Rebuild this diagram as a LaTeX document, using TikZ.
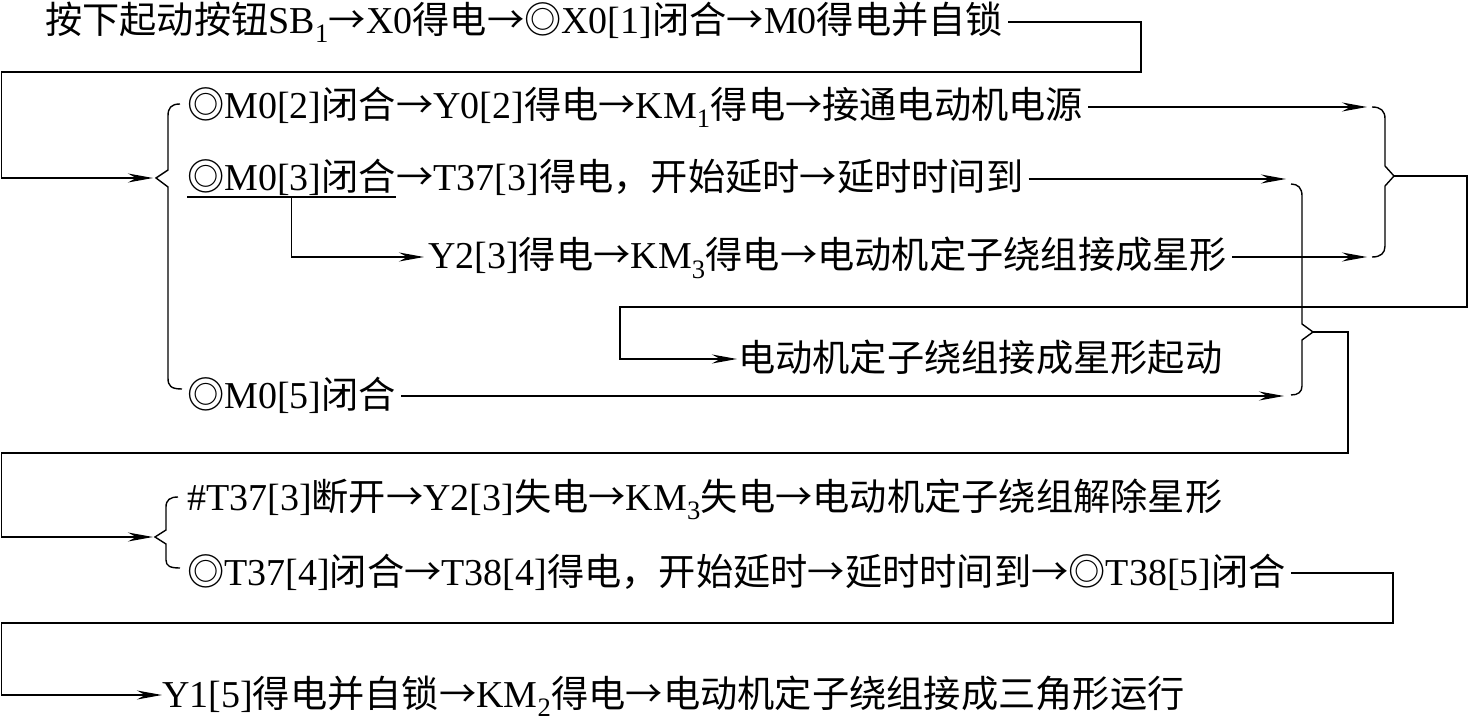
\documentclass[tikz,border=0pt]{standalone}
\usepackage{fontspec}
\setmainfont{Liberation Serif}
\newfontfamily\cjk[Scale=0.98]{Noto Sans CJK SC}
\usetikzlibrary{arrows.meta}
\newcommand\zh[1]{{\cjk #1}}
\newcommand\ra{\zh{→}}
\begin{document}
\begin{tikzpicture}[
    x=1pt,y=-1pt,
    txt/.style={anchor=west,inner sep=0pt,text height=30pt,text depth=6pt,font=\fontsize{38}{44}\selectfont},
    line/.style={line width=1.4pt},
    arr/.style={line,-{Stealth[length=25pt,width=9pt]}}
]
\useasboundingbox (0,0) rectangle (1469,719);
\node[txt] (l1) at (45,22) {\zh{按下起动按钮}SB\textsubscript{1}\ra X0\zh{得电}\ra\zh{◎}X0[1]\zh{闭合}\ra M0\zh{得电并自锁}};
\node[txt] (ma) at (187,107) {\zh{◎}M0[2]\zh{闭合}\ra Y0[2]\zh{得电}\ra KM\textsubscript{1}\zh{得电}\ra\zh{接通电动机电源}};
\node[txt] (mb) at (187,179) {\zh{◎}M0[3]\zh{闭合}};
\node[txt] (mb2) at (mb.east) {\ra T37[3]\zh{得电，开始延时}\ra\zh{延时时间到}};
\node[txt] (mc) at (428,257) {Y2[3]\zh{得电}\ra KM\textsubscript{3}\zh{得电}\ra\zh{电动机定子绕组接成星形}};
\node[txt] (st) at (738,359) {\zh{电动机定子绕组接成星形起动}};
\node[txt] (md) at (187,396) {\zh{◎}M0[5]\zh{闭合}};
\node[txt] (te) at (187,498) {\#T37[3]\zh{断开}\ra Y2[3]\zh{失电}\ra KM\textsubscript{3}\zh{失电}\ra\zh{电动机定子绕组解除星形}};
\node[txt] (tf) at (187,573) {\zh{◎}T37[4]\zh{闭合}\ra T38[4]\zh{得电，开始延时}\ra\zh{延时时间到}\ra\zh{◎}T38[5]\zh{闭合}};
\node[txt] (yg) at (162,695) {Y1[5]\zh{得电并自锁}\ra KM\textsubscript{2}\zh{得电}\ra\zh{电动机定子绕组接成三角形运行}};
\coordinate (lb1) at (153,178);
\coordinate (rb1a) at (1367,107);
\coordinate (rb1c) at (1367,257);
\coordinate (rb1) at (1394,176);
\coordinate (rb2b) at (1286,179);
\coordinate (rb2d) at (1284,396);
\coordinate (rb2) at (1313,332);
\coordinate (lb2) at (153,537);
\draw[line] (180,104) .. controls (171,104) and (168,108) .. (168,116) -- (168,170) -- (156,178) -- (168,187) -- (168,378) .. controls (168,386) and (171,389) .. (182,389);
\draw[line] (1372,107) .. controls (1381,107) and (1385,111) .. (1385,119) -- (1385,166) -- (rb1) -- (1385,186) -- (1385,246) .. controls (1385,253) and (1381,257) .. (1372,257);
\draw[line] (1291,184) .. controls (1298,184) and (1302,188) .. (1302,196) -- (1302,324) -- (rb2) -- (1302,340) -- (1302,386) .. controls (1302,392) and (1298,395) .. (1291,395);
\draw[line] (178,497) .. controls (170,497) and (166,500) .. (166,507) -- (166,530) -- (155,537) -- (166,544) -- (166,560) .. controls (166,566) and (170,568) .. (180,568);
\draw[arr,shorten <=5pt] (l1.east) -| (1141,72) -| (1.5,178) -- (lb1);
\draw[arr,shorten <=5pt] (ma.east) -- (rb1a);
\draw[arr,shorten <=5pt] (mb2.east) -- (rb2b);
\draw[line] (mb.south west) -- (mb.south east);
\draw[arr,shorten >=4pt] (mb.south) |- (mc.west);
\draw[arr,shorten <=5pt] (mc.east) -- (rb1c);
\draw[arr,shorten >=1pt] (rb1) -| (1467,307) -| (620,359) -- (st.west);
\draw[arr,shorten <=5pt] (md.east) -- (rb2d);
\draw[arr] (rb2) -| (1348,453) -| (1.5,537) -- (lb2);
\draw[arr,shorten <=5pt] (tf.east) -| (1393,623) -| (1.5,695) -- (yg.west);
\end{tikzpicture}
\end{document}
